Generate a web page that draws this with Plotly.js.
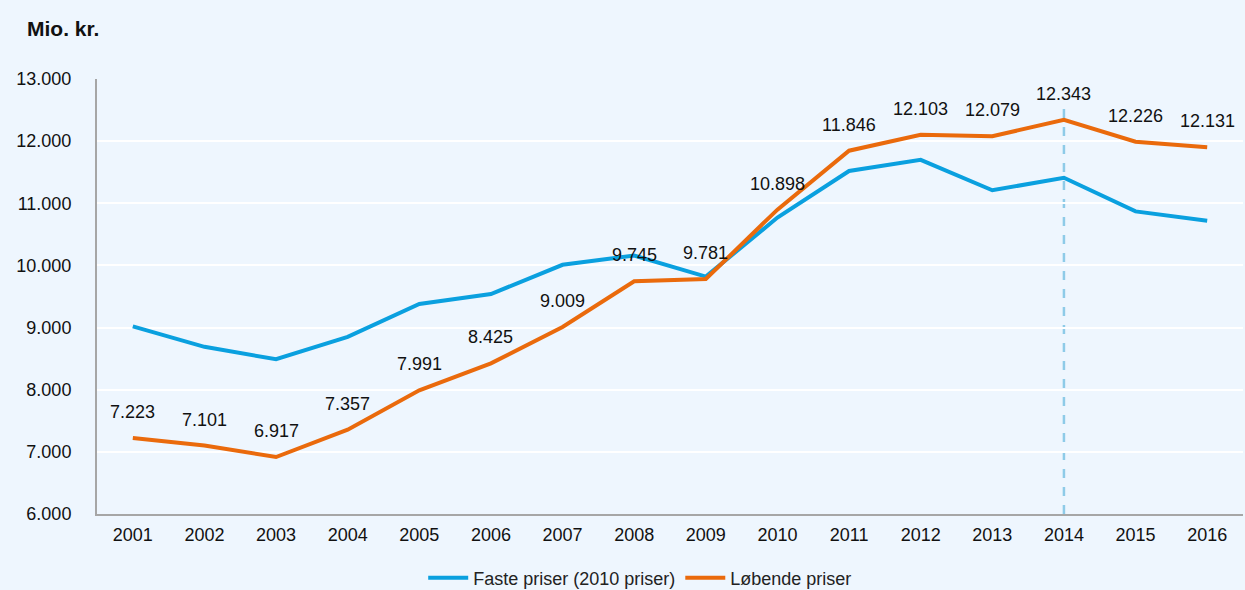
<!DOCTYPE html>
<html>
<head>
<meta charset="utf-8">
<script src="https://cdn.plot.ly/plotly-3.0.1.min.js"></script>
<style>
html,body{margin:0;padding:0;background:#EEF6FE;}
#chart{width:1245px;height:590px;}
</style>
</head>
<body>
<div id="chart"></div>
<script>
const years = ['2001','2002','2003','2004','2005','2006','2007','2008','2009','2010','2011','2012','2013','2014','2015','2016'];
const fastePriser = [9020, 8690, 8490, 8850, 9380, 9540, 10010, 10160, 9820, 10770, 11520, 11700, 11210, 11410, 10870, 10720];
const loebendePriser = [7223, 7101, 6917, 7357, 7991, 8425, 9009, 9745, 9781, 10898, 11846, 12103, 12079, 12343, 11990, 11900];
const loebendeLabels = ['7.223','7.101','6.917','7.357','7.991','8.425','9.009','9.745','9.781','10.898','11.846','12.103','12.079','12.343','12.226','12.131'];
const yTicks = [6000, 7000, 8000, 9000, 10000, 11000, 12000, 13000];
const yTickText = ['6.000','7.000','8.000','9.000','10.000','11.000','12.000','13.000'];
const markerYear = '2014';

const FONT = '"Liberation Sans Narrow", "Liberation Sans", Arial, sans-serif';

const traces = [
  {x: years, y: fastePriser, type: 'scatter', mode: 'lines', name: 'Faste priser (2010 priser)',
   line: {color: '#0AA0DF', width: 4}},
  {x: years, y: loebendePriser, type: 'scatter', mode: 'lines', name: 'Løbende priser',
   line: {color: '#EA6A0C', width: 4}}
];

const annotations = years.map((yr, i) => ({
  x: i, y: loebendePriser[i], xref: 'x', yref: 'y', text: loebendeLabels[i],
  showarrow: false, yshift: 26, font: {family: FONT, size: 18, color: '#111'}
}));
annotations.push({
  xref: 'paper', yref: 'paper', x: -0.063, y: 1.117, xanchor: 'left', yanchor: 'middle',
  text: '<b>Mio. kr.</b>', showarrow: false, font: {family: FONT, size: 21, color: '#111'}
});

const markerIdx = years.indexOf(markerYear);

const layout = {
  width: 1245, height: 590,
  paper_bgcolor: '#EEF6FE', plot_bgcolor: '#EEF6FE',
  margin: {l: 97, r: 2, t: 79, b: 76, autoexpand: false},
  font: {family: FONT, size: 18, color: '#111'},
  showlegend: true,
  legend: {orientation: 'h', x: 0.474, xanchor: 'center', y: -0.147, yanchor: 'middle',
           font: {family: FONT, size: 18, color: '#222'}, bgcolor: 'rgba(0,0,0,0)', itemwidth: 40},
  xaxis: {type: 'category', range: [-0.5, 15.5], showgrid: false, zeroline: false,
          showline: true, linecolor: '#A6A6A6', linewidth: 2,
          ticks: 'outside', ticklen: 3, tickcolor: 'rgba(0,0,0,0)',
          tickfont: {family: FONT, size: 18, color: '#111'}},
  yaxis: {range: [6000, 13000], tickvals: yTicks, ticktext: yTickText,
          showgrid: true, gridcolor: '#FFFFFF', gridwidth: 2, zeroline: false,
          showline: true, linecolor: '#A6A6A6', linewidth: 2,
          ticks: 'outside', ticklen: 20, tickcolor: 'rgba(0,0,0,0)',
          tickfont: {family: FONT, size: 18, color: '#111'}},
  shapes: [{type: 'line', xref: 'x', yref: 'paper', x0: markerIdx, x1: markerIdx, y0: 0, y1: 0.935,
            line: {color: '#8ECBE8', width: 2.5, dash: 'dash'}, layer: 'below'}],
  annotations: annotations
};

Plotly.newPlot('chart', traces, layout, {displayModeBar: false, staticPlot: true});
</script>
</body>
</html>
